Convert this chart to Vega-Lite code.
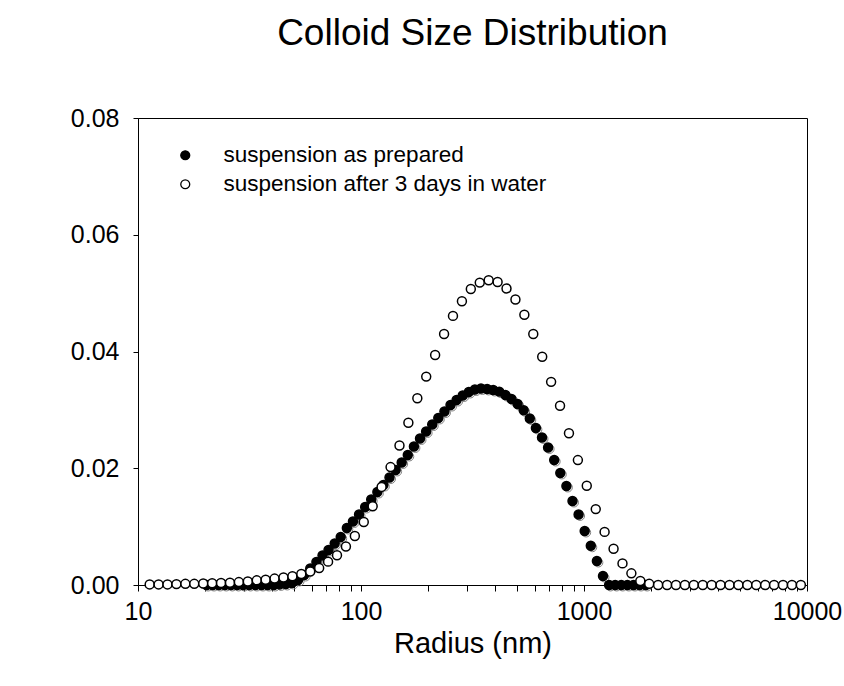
{
  "$schema": "https://vega.github.io/schema/vega-lite/v6.json",
  "width": 669,
  "height": 467,
  "autosize": {"type": "none"},
  "padding": {"left": 138, "top": 118, "right": 37, "bottom": 101},
  "background": "white",
  "config": {
    "font": "Liberation Sans",
    "view": {"stroke": "black", "strokeWidth": 1}
  },
  "title": {
    "text": "Colloid Size Distribution",
    "fontSize": 37,
    "font": "Liberation Sans",
    "fontWeight": "normal",
    "color": "black",
    "anchor": "middle",
    "offset": 53
  },
  "datasets": {
    "prepared": [
      {"radius": 20.3, "value": 0}, {"radius": 21.6, "value": 0}, {"radius": 23.0, "value": 0},
      {"radius": 24.5, "value": 0}, {"radius": 26.1, "value": 0}, {"radius": 27.8, "value": 0},
      {"radius": 29.6, "value": 0}, {"radius": 31.5, "value": 0}, {"radius": 33.6, "value": 0},
      {"radius": 35.8, "value": 0}, {"radius": 38.1, "value": 0}, {"radius": 40.6, "value": 0},
      {"radius": 43.2, "value": 0.0001}, {"radius": 46.0, "value": 0.00017}, {"radius": 49.0, "value": 0.00034},
      {"radius": 52.2, "value": 0.00086}, {"radius": 55.6, "value": 0.00171}, {"radius": 59.2, "value": 0.00283},
      {"radius": 63.1, "value": 0.00394}, {"radius": 67.2, "value": 0.00505}, {"radius": 71.5, "value": 0.006},
      {"radius": 76.2, "value": 0.00711}, {"radius": 81.1, "value": 0.00822}, {"radius": 86.4, "value": 0.00976},
      {"radius": 92.0, "value": 0.01088}, {"radius": 98.0, "value": 0.01208}, {"radius": 104.4, "value": 0.01336},
      {"radius": 111.1, "value": 0.01465}, {"radius": 118.4, "value": 0.01593}, {"radius": 126.0, "value": 0.01713},
      {"radius": 134.2, "value": 0.01842}, {"radius": 143.0, "value": 0.0197}, {"radius": 152.2, "value": 0.02099},
      {"radius": 162.1, "value": 0.02227}, {"radius": 172.7, "value": 0.02373}, {"radius": 183.9, "value": 0.0251},
      {"radius": 195.9, "value": 0.0263}, {"radius": 208.6, "value": 0.02749}, {"radius": 222.1, "value": 0.02861},
      {"radius": 236.6, "value": 0.02972}, {"radius": 252.0, "value": 0.03083}, {"radius": 268.3, "value": 0.03169},
      {"radius": 285.8, "value": 0.03246}, {"radius": 304.4, "value": 0.03306}, {"radius": 324.1, "value": 0.03349},
      {"radius": 345.2, "value": 0.03366}, {"radius": 367.7, "value": 0.03358}, {"radius": 391.6, "value": 0.0334},
      {"radius": 417.0, "value": 0.03313}, {"radius": 444.1, "value": 0.03255}, {"radius": 473.0, "value": 0.03186},
      {"radius": 503.8, "value": 0.03101}, {"radius": 536.5, "value": 0.02993}, {"radius": 571.4, "value": 0.02852},
      {"radius": 608.5, "value": 0.0269}, {"radius": 648.1, "value": 0.02527}, {"radius": 690.2, "value": 0.02356},
      {"radius": 735.1, "value": 0.02141}, {"radius": 782.9, "value": 0.01919}, {"radius": 833.8, "value": 0.01696},
      {"radius": 888.0, "value": 0.01439}, {"radius": 945.7, "value": 0.01208}, {"radius": 1007.1, "value": 0.00925},
      {"radius": 1072.6, "value": 0.00672}, {"radius": 1142.3, "value": 0.00411}, {"radius": 1216.6, "value": 0.00154},
      {"radius": 1295.7, "value": 0}, {"radius": 1379.9, "value": 0}, {"radius": 1469.6, "value": 0},
      {"radius": 1565.1, "value": 0}, {"radius": 1666.9, "value": 0}, {"radius": 1775.2, "value": 0},
      {"radius": 1890.6, "value": 0}
    ],
    "after": [
      {"radius": 11.28, "value": 0.0001}, {"radius": 12.37, "value": 0.0001}, {"radius": 13.56, "value": 0.0001},
      {"radius": 14.87, "value": 0.00015}, {"radius": 16.31, "value": 0.0002}, {"radius": 17.88, "value": 0.0002},
      {"radius": 19.61, "value": 0.00025}, {"radius": 21.5, "value": 0.0003}, {"radius": 23.57, "value": 0.00035},
      {"radius": 25.85, "value": 0.0004}, {"radius": 28.34, "value": 0.0005}, {"radius": 31.08, "value": 0.0006},
      {"radius": 34.08, "value": 0.0008}, {"radius": 37.36, "value": 0.0009}, {"radius": 40.97, "value": 0.0011},
      {"radius": 44.92, "value": 0.0013}, {"radius": 49.25, "value": 0.0015}, {"radius": 54.0, "value": 0.0019},
      {"radius": 59.21, "value": 0.0023}, {"radius": 64.93, "value": 0.0029}, {"radius": 71.19, "value": 0.004},
      {"radius": 78.06, "value": 0.0051}, {"radius": 85.59, "value": 0.0066}, {"radius": 93.85, "value": 0.0084},
      {"radius": 102.9, "value": 0.0108}, {"radius": 112.8, "value": 0.0135}, {"radius": 123.7, "value": 0.0168},
      {"radius": 135.7, "value": 0.0202}, {"radius": 148.8, "value": 0.0239}, {"radius": 163.1, "value": 0.0278},
      {"radius": 178.9, "value": 0.032}, {"radius": 196.1, "value": 0.0357}, {"radius": 215.0, "value": 0.0394},
      {"radius": 235.8, "value": 0.043}, {"radius": 258.5, "value": 0.0461}, {"radius": 283.5, "value": 0.0486},
      {"radius": 310.8, "value": 0.0507}, {"radius": 340.8, "value": 0.0518}, {"radius": 373.7, "value": 0.0522},
      {"radius": 409.8, "value": 0.0519}, {"radius": 449.3, "value": 0.0508}, {"radius": 492.7, "value": 0.0489},
      {"radius": 540.2, "value": 0.0463}, {"radius": 592.3, "value": 0.043}, {"radius": 649.5, "value": 0.0391},
      {"radius": 712.1, "value": 0.0348}, {"radius": 780.8, "value": 0.0307}, {"radius": 856.2, "value": 0.026},
      {"radius": 938.8, "value": 0.0214}, {"radius": 1029, "value": 0.017}, {"radius": 1129, "value": 0.013},
      {"radius": 1237, "value": 0.0091}, {"radius": 1357, "value": 0.0062}, {"radius": 1488, "value": 0.0037},
      {"radius": 1631, "value": 0.002}, {"radius": 1789, "value": 0.0007}, {"radius": 1961, "value": 0.0002},
      {"radius": 2150, "value": 0}, {"radius": 2358, "value": 0}, {"radius": 2585, "value": 0},
      {"radius": 2835, "value": 0}, {"radius": 3108, "value": 0}, {"radius": 3408, "value": 0},
      {"radius": 3737, "value": 0}, {"radius": 4097, "value": 0}, {"radius": 4493, "value": 0},
      {"radius": 4926, "value": 0}, {"radius": 5401, "value": 0}, {"radius": 5922, "value": 0},
      {"radius": 6494, "value": 0}, {"radius": 7120, "value": 0}, {"radius": 7807, "value": 0},
      {"radius": 8561, "value": 0}, {"radius": 9387, "value": 0}
    ]
  },
  "encoding": {
    "x": {
      "field": "radius",
      "type": "quantitative",
      "scale": {"type": "log", "domain": [10, 10000], "nice": false},
      "axis": {
        "title": "Radius (nm)",
        "values": [10, 20, 30, 40, 50, 60, 70, 80, 90, 100, 200, 300, 400, 500, 600, 700, 800, 900, 1000, 2000, 3000, 4000, 5000, 6000, 7000, 8000, 9000, 10000],
        "format": "d",
        "labelExpr": "(datum.value == 10 || datum.value == 100 || datum.value == 1000 || datum.value == 10000) ? datum.label : ''",
        "labelFlush": false,
        "labelOverlap": false,
        "labelFontSize": 25,
        "labelColor": "black",
        "labelPadding": 8,
        "titleFontSize": 29,
        "titleFontWeight": "normal",
        "titleColor": "black",
        "titlePadding": 5,
        "tickSize": 6,
        "tickColor": "black",
        "domainColor": "black",
        "grid": false
      }
    },
    "y": {
      "field": "value",
      "type": "quantitative",
      "scale": {"domain": [0, 0.08], "nice": false},
      "axis": {
        "title": null,
        "values": [0, 0.02, 0.04, 0.06, 0.08],
        "format": ".2f",
        "labelFlush": false,
        "labelOverlap": false,
        "labelFontSize": 25,
        "labelColor": "black",
        "labelPadding": 14,
        "tickSize": 5,
        "tickColor": "black",
        "domainColor": "black",
        "grid": false
      }
    }
  },
  "layer": [
    {
      "data": {"name": "prepared"},
      "mark": {"type": "point", "shape": "circle", "filled": false, "stroke": "#808080", "strokeWidth": 1, "size": 80, "xOffset": 1.5, "yOffset": 1.5, "opacity": 1}
    },
    {
      "data": {"name": "prepared"},
      "mark": {"type": "point", "shape": "circle", "filled": true, "stroke": "black", "strokeWidth": 1.5, "size": 80, "opacity": 1},
      "encoding": {
        "fill": {
          "datum": "suspension as prepared",
          "type": "nominal",
          "scale": {"domain": ["suspension as prepared", "suspension after 3 days in water"], "range": ["black", "white"]},
          "legend": {
            "orient": "none",
            "legendX": 36,
            "legendY": 26,
            "title": null,
            "padding": 0,
            "symbolType": "circle",
            "symbolSize": 80,
            "symbolStrokeColor": "black",
            "symbolStrokeWidth": 1.3,
            "labelFontSize": 22.5,
            "labelFont": "Liberation Sans",
            "labelColor": "black",
            "labelLimit": 600,
            "labelOffset": 27,
            "rowPadding": 6
          }
        }
      }
    },
    {
      "data": {"name": "after"},
      "mark": {"type": "point", "shape": "circle", "filled": true, "stroke": "black", "strokeWidth": 1.5, "size": 80, "opacity": 1},
      "encoding": {
        "fill": {"datum": "suspension after 3 days in water", "type": "nominal"}
      }
    }
  ]
}
